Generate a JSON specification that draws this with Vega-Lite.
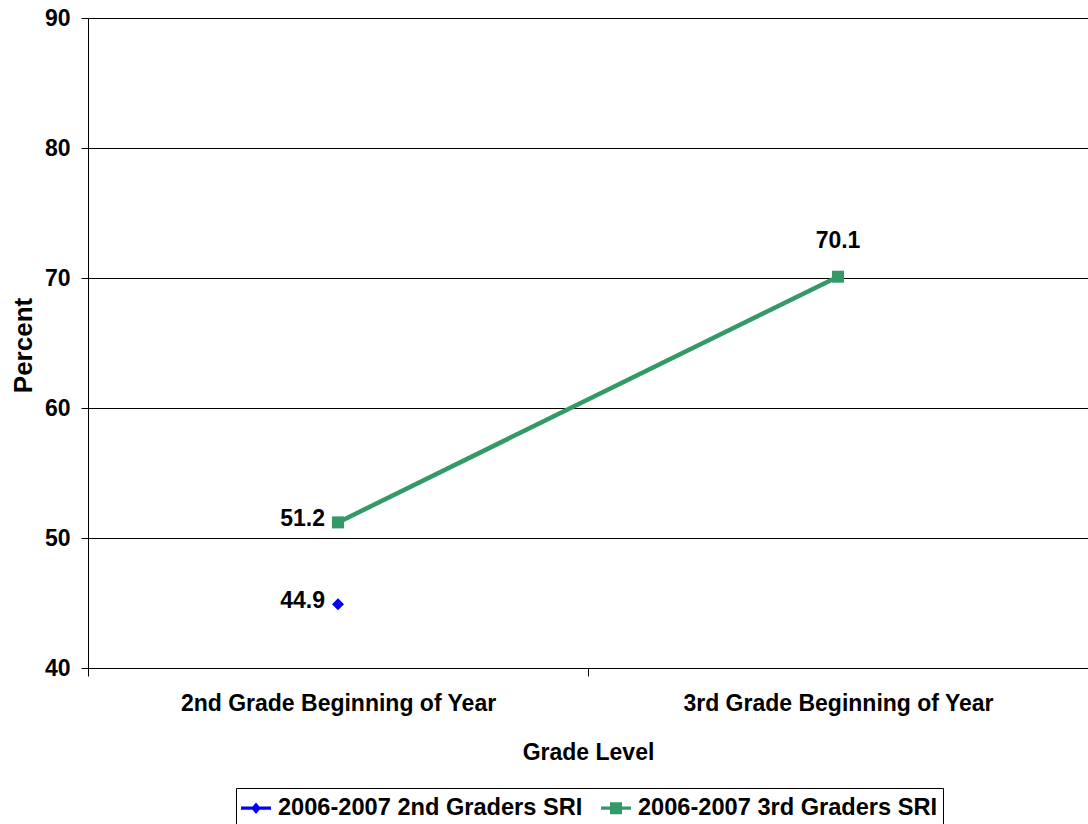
{
  "$schema": "https://vega.github.io/schema/vega-lite/v6.json",
  "autosize": {"type": "none"},
  "width": 1000,
  "height": 650,
  "padding": {"left": 88, "top": 18, "right": 0, "bottom": 156},
  "background": "white",
  "config": {
    "view": {"stroke": null},
    "font": "Liberation Sans",
    "text": {"font": "Liberation Sans"}
  },
  "data": {
    "values": [
      {"series": "2006-2007 2nd Graders SRI", "grade": "2nd Grade Beginning of Year", "value": 44.9},
      {"series": "2006-2007 3rd Graders SRI", "grade": "2nd Grade Beginning of Year", "value": 51.2},
      {"series": "2006-2007 3rd Graders SRI", "grade": "3rd Grade Beginning of Year", "value": 70.1}
    ]
  },
  "encoding": {
    "x": {
      "field": "grade",
      "type": "nominal",
      "sort": ["2nd Grade Beginning of Year", "3rd Grade Beginning of Year"],
      "scale": {"paddingInner": 0, "paddingOuter": 0},
      "axis": {
        "title": "Grade Level",
        "labelAngle": 0,
        "tickBand": "extent",
        "tickSize": 8,
        "tickColor": "black",
        "domainColor": "black",
        "labelFont": "Liberation Sans",
        "labelFontSize": 23,
        "labelFontWeight": "bold",
        "labelColor": "black",
        "labelPadding": 16,
        "labelLimit": 600,
        "titleFont": "Liberation Sans",
        "titleFontSize": 23,
        "titleFontWeight": "bold",
        "titleColor": "black",
        "titleY": 84,
        "titleBaseline": "middle"
      }
    },
    "y": {
      "field": "value",
      "type": "quantitative",
      "scale": {"domain": [40, 90], "nice": false},
      "axis": {
        "title": "Percent",
        "values": [40, 50, 60, 70, 80, 90],
        "grid": true,
        "gridColor": "black",
        "gridOpacity": 1,
        "gridWidth": 1,
        "tickSize": 7,
        "tickColor": "black",
        "domainColor": "black",
        "labelFont": "Liberation Sans",
        "labelFontSize": 23,
        "labelFontWeight": "bold",
        "labelColor": "black",
        "labelPadding": 11,
        "titleFont": "Liberation Sans",
        "titleFontSize": 26,
        "titleFontWeight": "bold",
        "titleColor": "black",
        "titleAngle": -90,
        "titleX": -65,
        "titleY": 327,
        "titleAlign": "center",
        "titleBaseline": "middle"
      }
    }
  },
  "layer": [
    {
      "mark": {"type": "line", "strokeWidth": 4.5},
      "encoding": {
        "color": {
          "field": "series",
          "type": "nominal",
          "scale": {
            "domain": ["2006-2007 2nd Graders SRI", "2006-2007 3rd Graders SRI"],
            "range": ["#0000FF", "#339966"]
          },
          "legend": {
            "title": null,
            "orient": "none",
            "direction": "horizontal",
            "legendX": 148,
            "legendY": 770,
            "strokeColor": "black",
            "padding": 5,
            "fillColor": "white",
            "symbolSize": 900,
            "symbolStrokeWidth": 0,
            "labelFont": "Liberation Sans",
            "labelFontSize": 23.6,
            "labelFontWeight": "bold",
            "labelColor": "black",
            "labelLimit": 600,
            "labelOffset": 7,
            "columnPadding": 18,
            "encode": {
              "symbols": {
                "update": {
                  "shape": {"signal": "datum.value === '2006-2007 2nd Graders SRI' ? 'M-1,-0.11H1V0.11H-1Z M0,-0.38L0.32,0L0,0.38L-0.32,0Z' : 'M-1,-0.11H1V0.11H-1Z M-0.4,-0.4H0.4V0.4H-0.4Z'"},
                  "fill": {"scale": "color", "field": "value"},
                  "fillOpacity": {"value": 1},
                  "strokeWidth": {"value": 0}
                }
              }
            }
          }
        }
      }
    },
    {
      "transform": [{"filter": "datum.series === '2006-2007 2nd Graders SRI'"}],
      "mark": {"type": "point", "filled": true, "opacity": 1, "size": 144, "shape": "diamond"},
      "encoding": {
        "color": {"field": "series", "type": "nominal"}
      }
    },
    {
      "transform": [{"filter": "datum.series === '2006-2007 3rd Graders SRI'"}],
      "mark": {"type": "point", "filled": true, "opacity": 1, "size": 144, "shape": "square"},
      "encoding": {
        "color": {"field": "series", "type": "nominal"}
      }
    },
    {
      "transform": [{"filter": "datum.grade === '2nd Grade Beginning of Year'"}],
      "mark": {"type": "text", "align": "right", "baseline": "middle", "dx": -13, "dy": -3, "fontSize": 23, "fontWeight": "bold", "font": "Liberation Sans", "color": "black"},
      "encoding": {"text": {"field": "value", "type": "quantitative", "format": ".1f"}}
    },
    {
      "transform": [{"filter": "datum.grade === '3rd Grade Beginning of Year'"}],
      "mark": {"type": "text", "align": "center", "baseline": "middle", "dy": -36, "fontSize": 23, "fontWeight": "bold", "font": "Liberation Sans", "color": "black"},
      "encoding": {"text": {"field": "value", "type": "quantitative", "format": ".1f"}}
    }
  ]
}
